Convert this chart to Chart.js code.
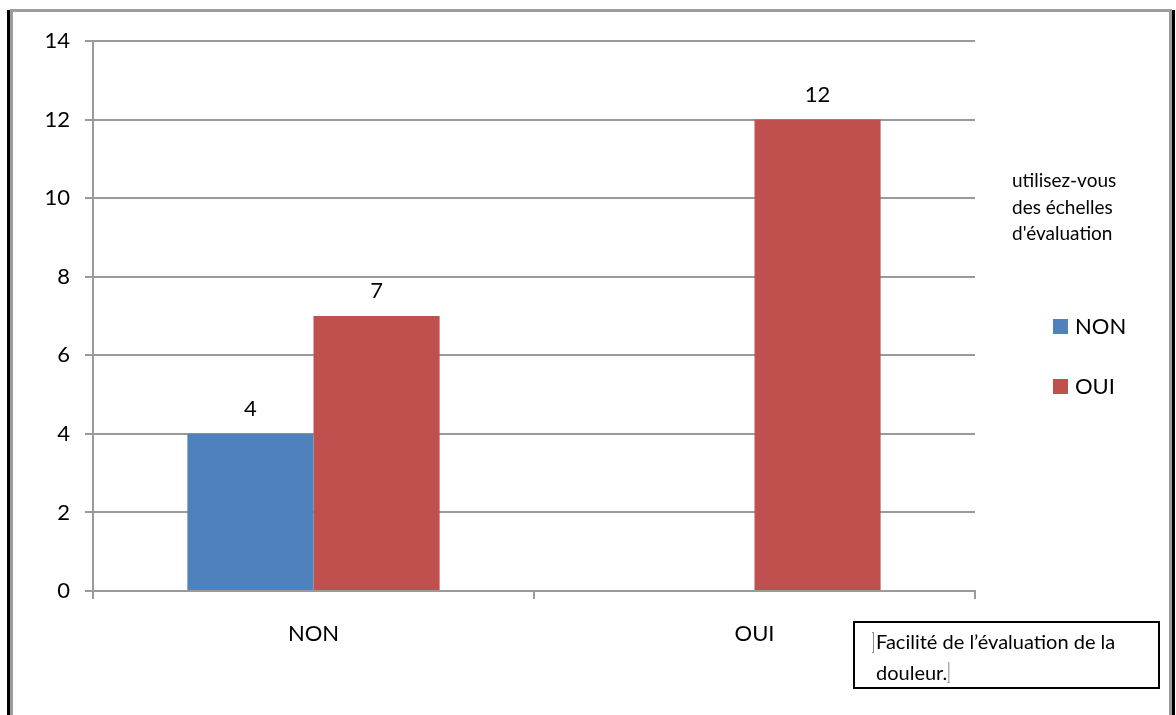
<!DOCTYPE html>
<html>
<head>
<meta charset="utf-8">
<script src="https://cdn.jsdelivr.net/npm/chart.js@4.4.1/dist/chart.umd.min.js"></script>
<style>
  html, body { margin: 0; padding: 0; background: #ffffff; }
  #wrap { width: 1176px; height: 715px; position: relative; }
</style>
</head>
<body>
<div id="wrap"><canvas id="c" width="1176" height="715"></canvas></div>
<script>
// Categories on the x axis and answers per group
const categories = ['NON', 'OUI'];
const seriesNames = ['NON', 'OUI'];
const valuesNon = [4, null];
const valuesOui = [7, 12];
const yTicks = [0, 2, 4, 6, 8, 10, 12, 14];
const legendTitle = ['utilisez-vous', 'des échelles', "d'évaluation"];
const captionLines = ['Facilité de l’évaluation de la', 'douleur.'];

const FONT = 'Lato, "Open Sans", sans-serif';
const GRID = '#9a9a9a';

// Frame around the whole figure
const framePlugin = {
  id: 'frame',
  afterDraw(chart) {
    const ctx = chart.ctx;
    ctx.save();
    ctx.fillStyle = '#000000';
    ctx.fillRect(7, 10, 3, 705);
    ctx.fillRect(1172, 10, 3, 705);
    ctx.fillStyle = '#9c9c9c';
    ctx.fillRect(10, 9, 1162, 3);
    ctx.fillRect(10, 9, 3, 706);
    ctx.fillRect(1169, 9, 3, 706);
    ctx.restore();
  }
};

// Value labels above each bar
const valueLabels = {
  id: 'valueLabels',
  afterDatasetsDraw(chart) {
    const ctx = chart.ctx;
    ctx.save();
    ctx.font = '22px ' + FONT;
    ctx.fillStyle = '#000000';
    ctx.textAlign = 'center';
    ctx.textBaseline = 'alphabetic';
    chart.data.datasets.forEach((ds, i) => {
      chart.getDatasetMeta(i).data.forEach((el, j) => {
        const v = ds.data[j];
        if (v === null || v === undefined) return;
        ctx.fillText(String(v), el.x, el.y - 18);
      });
    });
    ctx.restore();
  }
};

// Legend with its title, built from the datasets
const sideLegend = {
  id: 'sideLegend',
  afterDraw(chart) {
    const ctx = chart.ctx;
    ctx.save();
    ctx.fillStyle = '#000000';
    ctx.font = '19px ' + FONT;
    ctx.textAlign = 'left';
    ctx.textBaseline = 'alphabetic';
    legendTitle.forEach((t, i) => ctx.fillText(t, 1012, 187 + i * 26.5));
    ctx.font = '22px ' + FONT;
    chart.data.datasets.forEach((ds, i) => {
      const top = 319 + i * 60;
      ctx.fillStyle = ds.backgroundColor;
      ctx.fillRect(1053, top, 15, 15);
      ctx.fillStyle = '#000000';
      ctx.fillText(ds.label, 1075, top + 15);
    });
    ctx.restore();
  }
};

// Caption box in the lower right corner
const captionBox = {
  id: 'captionBox',
  afterDraw(chart) {
    const ctx = chart.ctx;
    ctx.save();
    ctx.strokeStyle = '#000000';
    ctx.lineWidth = 2;
    ctx.strokeRect(854, 622, 305, 66);
    ctx.fillStyle = '#000000';
    ctx.font = '20px ' + FONT;
    ctx.textAlign = 'left';
    ctx.textBaseline = 'alphabetic';
    ctx.fillText(captionLines[0], 876, 649);
    ctx.fillText(captionLines[1], 876, 680);
    const w = ctx.measureText(captionLines[1]).width;
    ctx.strokeStyle = '#8a8a8a';
    ctx.lineWidth = 1;
    ctx.beginPath();
    ctx.moveTo(873.5, 632); ctx.lineTo(873.5, 653);
    ctx.moveTo(872, 632.5); ctx.lineTo(874, 632.5);
    ctx.moveTo(872, 652.5); ctx.lineTo(874, 652.5);
    ctx.moveTo(877.5 + w, 662); ctx.lineTo(877.5 + w, 683);
    ctx.moveTo(876 + w, 682.5); ctx.lineTo(878 + w, 682.5);
    ctx.stroke();
    ctx.restore();
  }
};

new Chart(document.getElementById('c'), {
  type: 'bar',
  data: {
    labels: categories,
    datasets: [
      { label: seriesNames[0], data: valuesNon, backgroundColor: '#4F81BD' },
      { label: seriesNames[1], data: valuesOui, backgroundColor: '#C0504D' }
    ]
  },
  options: {
    responsive: false,
    animation: false,
    devicePixelRatio: 1,
    layout: { padding: { top: 41, left: 0, right: 201, bottom: 64 } },
    datasets: { bar: { categoryPercentage: 0.572, barPercentage: 1.0 } },
    plugins: { legend: { display: false }, tooltip: { enabled: false } },
    scales: {
      x: {
        afterFit(scale) { scale.height = 60; },
        grid: { display: true, drawOnChartArea: false, drawTicks: true, tickLength: 8, color: GRID, lineWidth: 2, offset: true },
        border: { display: true, color: GRID, width: 2 },
        ticks: { color: '#000000', font: { family: FONT, size: 22 }, padding: 22 }
      },
      y: {
        min: 0, max: 14,
        afterFit(scale) { scale.width = 93; },
        afterBuildTicks(scale) { scale.ticks = yTicks.map(v => ({ value: v })); },
        grid: { color: GRID, lineWidth: 2, drawTicks: true, tickLength: 8 },
        border: { display: true, color: GRID, width: 2 },
        ticks: { color: '#000000', font: { family: FONT, size: 22 }, padding: 15 }
      }
    }
  },
  plugins: [valueLabels, sideLegend, captionBox, framePlugin]
});
</script>
</body>
</html>
